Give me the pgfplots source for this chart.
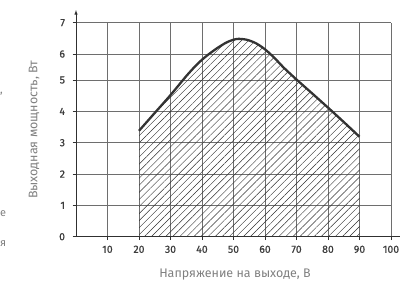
\documentclass[border=0pt]{standalone}
\usepackage{pgfplots}
\pgfplotsset{compat=1.18}
\usetikzlibrary{patterns.meta,arrows.meta}
\usepackage{fontspec}
\setmainfont{Fira Sans}
\newfontfamily\tickfont{Fira Sans}[FakeBold=0.6]
\definecolor{gridc}{HTML}{6E6E6E}
\definecolor{axisc}{HTML}{303030}
\definecolor{curvec}{HTML}{333333}
\definecolor{tickc}{HTML}{3C3C3C}
\definecolor{labc}{HTML}{808080}
\pgfplotstableread{
x y
20 3.38
25 3.95
30 4.52
35 5.15
38 5.55
40 5.78
42 5.98
45 6.20
48 6.38
51 6.48
54 6.46
57 6.35
60 6.15
63 5.85
66 5.47
70 5.02
75 4.57
80 4.12
85 3.66
90 3.19
}\curvedata
\begin{document}
\begin{tikzpicture}[x=1bp,y=1bp]
\path[use as bounding box] (0,0) rectangle (402,282);
\begin{axis}[
  at={(76bp,45.3bp)}, anchor=south west,
  scale only axis, width=315bp, height=214bp,
  xmin=0, xmax=100, ymin=0, ymax=7,
  y coord trafo/.code={\pgfmathparse{#1-0.17*min(max(#1-5,0),1)}},
  xtick={10,20,...,100},
  ytick={0,1,2,3,4,5,6,7},
  yticklabels={0,1,2,3,4,5,6,7},
  grid=major,
  grid style={gridc, line width=0.8bp},
  axis lines=left,
  axis line style={axisc, line width=0.9bp},
  x axis line style={-, shorten >=-9bp},
  y axis line style={-{Latex[length=5bp,width=3.5bp]}, shorten >=-13bp},
  tick align=outside,
  major tick length=3.5bp,
  tick style={axisc, line width=0.8bp},
  /pgf/number format/assume math mode=true,
  tick label style={font=\tickfont\fontsize{10.5}{10.5}\selectfont, text=tickc},
  xticklabel style={yshift=-2bp},
  yticklabel style={xshift=-4bp},
  clip=false,
]
\addplot[draw=none, pattern={Lines[angle=45, distance=5bp, line width=0.45bp]}, pattern color=axisc, smooth, tension=0.5] table[x=x,y=y] {\curvedata} \closedcycle;
\addplot[curvec, line width=2.3bp, smooth, tension=0.5] table[x=x,y=y] {\curvedata};
\end{axis}
\node[rotate=90, text=labc, font=\fontsize{12.5}{12.5}\selectfont] at (34,152.3) {Выходная мощность, Вт};
\node[text=labc, font=\fontsize{12.5}{12.5}\selectfont] at (235,7) {Напряжение на выходе, В};
\node[text=labc, font=\fontsize{11}{11}\selectfont, anchor=west, inner sep=0pt] at (0,188) {,};
\node[text=labc, font=\fontsize{11}{11}\selectfont, anchor=west, inner sep=0pt] at (0,68) {е};
\node[text=labc, font=\fontsize{11}{11}\selectfont, anchor=west, inner sep=0pt] at (0,38) {я};
\end{tikzpicture}
\end{document}
